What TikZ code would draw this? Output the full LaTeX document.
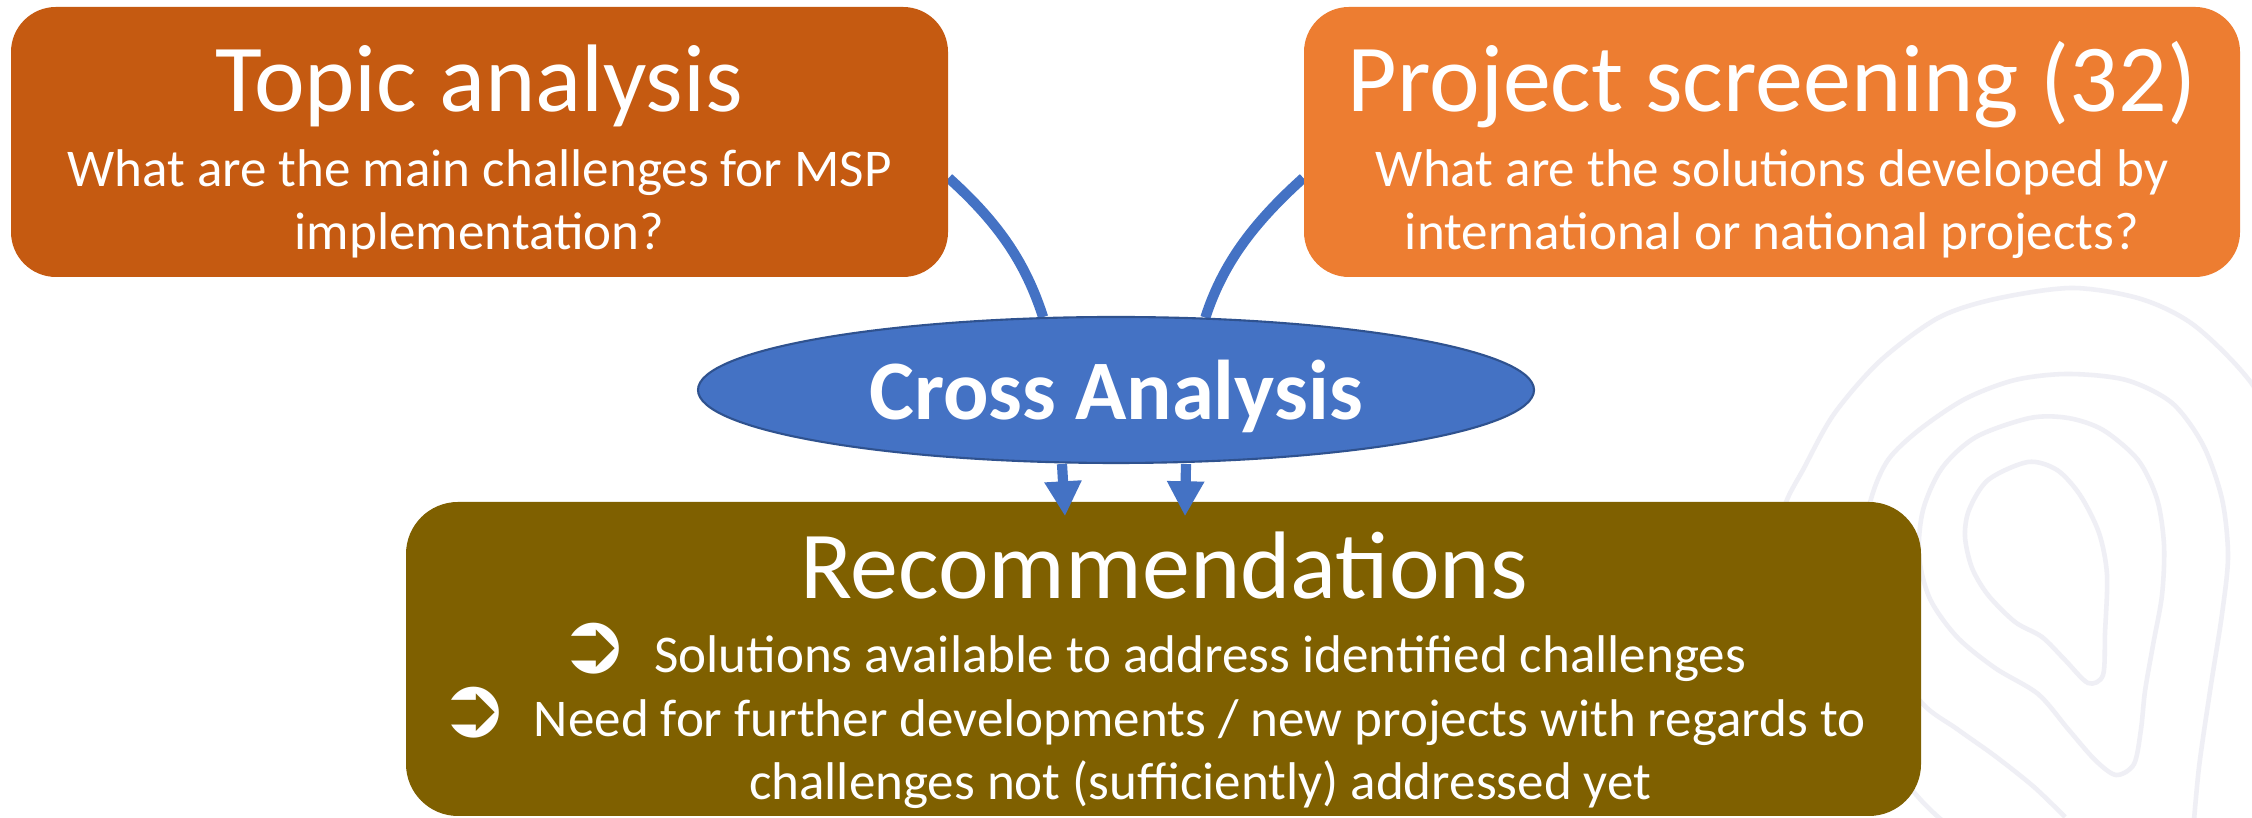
\documentclass[tikz,border=0pt]{standalone}
\usepackage{fontspec}
\setmainfont{Carlito}
\newfontfamily\bulletfont{DejaVu Sans}
\usetikzlibrary{arrows.meta,backgrounds,shapes.geometric}
\definecolor{topicorange}{HTML}{C55A11}
\definecolor{projectorange}{HTML}{ED7D31}
\definecolor{crossblue}{HTML}{4472C4}
\definecolor{crossedge}{HTML}{2F528F}
\definecolor{recsbrown}{HTML}{7F6000}
\definecolor{contourgrey}{HTML}{EFEFF5}
\tikzset{boxy/.style={rectangle,rounded corners=0.45cm,inner sep=0},
    crossy/.style={ellipse,draw=crossedge,fill=crossblue,line width=0.6pt,inner sep=0,
        minimum width=8.36cm,minimum height=1.46cm,text=white,text depth=0pt,
        font=\fontsize{24.1}{28}\selectfont\bfseries},
    headtext/.style={text=white,inner sep=0,anchor=base,font=\fontsize{27.3}{32}\selectfont},
    subtext/.style={text=white,inner sep=0,anchor=base,font=\fontsize{15.1}{18}\selectfont},
    flowline/.style={draw=crossblue,line width=2.9pt},
    contourline/.style={draw=contourgrey,line width=1.3pt}
}
\newcommand{\recbullet}{{\bulletfont\fontsize{24}{26}\selectfont ➲}\hspace{0.25cm}}

\begin{document}
\begin{tikzpicture}

\useasboundingbox (0,0) rectangle (22.52,8.18);

% the two questions
\node (topic) [boxy,fill=topicorange,minimum width=9.37cm,minimum height=2.70cm] at (4.795,6.76) {};
\node (topic-head) [headtext] at (4.795,7.06) {Topic analysis};
\node (topic-q1) [subtext] at (4.795,6.31) {What are the main challenges for MSP};
\node (topic-q2) [subtext] at (4.795,5.68) {implementation?};

\node (project) [boxy,fill=projectorange,minimum width=9.36cm,minimum height=2.70cm] at (17.72,6.76) {};
\node (project-head) [headtext] at (17.72,7.06) {Project screening (32)};
\node (project-q1) [subtext] at (17.72,6.31) {What are the solutions developed by};
\node (project-q2) [subtext] at (17.72,5.68) {international or national projects?};

% cross analysis
\node (cross) [crossy] at (11.16,4.28) {Cross Analysis};

% recommendations
\node (recs) [boxy,rounded corners=0.52cm,fill=recsbrown,minimum width=15.15cm,minimum height=3.14cm] at (11.635,1.59) {};
\node (recs-head) [headtext] at (11.64,2.19) {Recommendations};
\node (recs-l1) [subtext,anchor=base east] at (17.47,1.45) {\recbullet Solutions available to address identified challenges};
\node (recs-l2) [subtext,anchor=base east] at (18.66,0.81) {\recbullet Need for further developments / new projects with regards to};
\node (recs-l3) [subtext,anchor=base east] at (16.52,0.18) {challenges not (sufficiently) addressed yet};

\draw [flowline,-{Triangle[width=0.35cm,length=0.35cm]}] ([xshift=-0.54cm]cross.south) -- ([xshift=-0.985cm,yshift=-0.15cm]recs.north);
\draw [flowline,-{Triangle[width=0.35cm,length=0.35cm]}] ([xshift=0.70cm]cross.south) -- ([xshift=0.215cm,yshift=-0.15cm]recs.north);

\begin{scope}[on background layer]
\fill [white] (0,0) rectangle (22.52,8.18);

% contour lines in the corner
\begin{scope}
\clip (0,0) rectangle (22.52,8.18);
\draw [contourline] plot [smooth cycle] coordinates {(20.28,3.56) (19.88,3.38) (19.69,3.08) (19.65,2.81) (19.72,2.50) (19.88,2.23) (20.15,1.96) (20.42,1.81) (20.65,1.58) (20.88,1.35) (21.03,1.43) (21.05,1.85) (21.07,2.43) (20.99,2.85) (20.80,3.23) (20.57,3.48)};
\draw [contourline] plot [smooth cycle] coordinates {(20.30,4.00) (19.76,3.81) (19.42,3.50) (19.23,3.08) (19.19,2.62) (19.30,2.19) (19.57,1.81) (19.95,1.50) (20.38,1.24) (20.68,0.89) (20.95,0.58) (21.16,0.43) (21.34,0.54) (21.41,0.89) (21.45,1.27) (21.53,1.73) (21.62,2.23) (21.64,2.73) (21.57,3.19) (21.38,3.58) (21.03,3.88) (20.68,4.00)};
\draw [contourline] plot [smooth] coordinates {(20.65,0.01) (20.34,0.31) (19.95,0.62) (19.57,0.89) (19.21,1.16) (18.80,1.78) (18.60,2.58) (18.71,3.19) (18.88,3.58) (19.19,3.88) (19.65,4.19) (20.15,4.38) (20.68,4.44) (21.26,4.38) (21.72,4.15) (22.03,3.73) (22.22,3.19) (22.28,2.62) (22.22,2.04) (22.10,1.27) (21.99,0.51) (21.93,-0.14)};
\draw [contourline] plot [smooth] coordinates {(19.57,-0.14) (19.19,0.20) (18.30,1.30) (17.75,2.50) (17.84,3.10) (18.04,3.50) (18.34,4.04) (18.80,4.57) (19.38,5.00) (19.95,5.19) (20.72,5.30) (21.41,5.19) (21.95,4.92) (22.52,4.34) (22.90,3.60)};
\end{scope}

\draw [flowline] ([yshift=-0.36cm]topic.east) .. controls +(-42:0.7) and +(108:0.55) .. (cross.135);
\draw [flowline] ([yshift=-0.36cm]project.west) .. controls +(-138:0.7) and +(72:0.55) .. (cross.39);
\end{scope}

\end{tikzpicture}
\end{document}
